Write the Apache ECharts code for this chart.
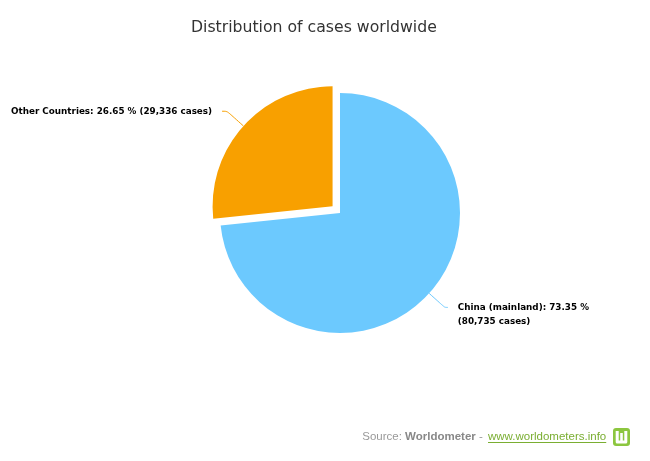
<!DOCTYPE html>
<html>
<head>
<meta charset="utf-8">
<script src="https://cdn.jsdelivr.net/npm/echarts@6/dist/echarts.min.js"></script>
<style>html,body{margin:0;padding:0;background:#fff}#c{width:650px;height:461px}</style>
</head>
<body>
<div id="c"></div>
<script>
var categories = ['China (mainland)', 'Other Countries'];
var cases = [80735, 29336];
var colors = ['#6CC9FE', '#F8A000'];
var titleText = 'Distribution of cases worldwide';
var sourceLabel = 'Source: ';
var sourceName = 'Worldometer';
var sourceLink = 'www.worldometers.info';

var chart = echarts.init(document.getElementById('c'), null, {renderer: 'canvas'});

function fmtLabel(p) {
  var txt = p.name + ': ' + p.percent.toFixed(2) + ' %';
  var c = '(' + echarts.format.addCommas(p.value) + ' cases)';
  return p.dataIndex === 0 ? '\n' + txt + '\n' + c : txt + ' ' + c;
}

var data = categories.map(function (n, i) {
  var item = {name: n, value: cases[i], itemStyle: {color: colors[i]}};
  if (i === 0) {
    item.label = {distanceToLabelLine: 10};
    item.labelLine = {length: 21, length2: 3};
  } else {
    item.selected = true;
    item.label = {distanceToLabelLine: 10};
    item.labelLine = {length: 22, length2: 5};
  }
  return item;
});

// measure link width for underline
var ctx = document.createElement('canvas').getContext('2d');
var srcFont = '11.5px "Liberation Sans", Arial, sans-serif';
ctx.font = srcFont;
var linkW = ctx.measureText(sourceLink).width;
var linkX = 488;

chart.setOption({
  animation: false,
  backgroundColor: '#fff',
  title: {
    text: titleText,
    left: 186,
    top: 15,
    textStyle: {fontFamily: '"DejaVu Sans", sans-serif', fontSize: 15.7, fontWeight: 'normal', color: '#333'}
  },
  series: [{
    type: 'pie',
    center: [340, 213],
    radius: 120,
    startAngle: 90,
    clockwise: true,
    selectedMode: 'single',
    selectedOffset: 10,
    emphasis: {disabled: true},
    label: {
      show: true,
      position: 'outside',
      formatter: fmtLabel,
      fontFamily: '"DejaVu Sans", Verdana, sans-serif',
      fontSize: 8.8,
      fontWeight: 'bold',
      color: '#000',
      lineHeight: 14
    },
    labelLine: {show: true, smooth: 0.3, lineStyle: {width: 1}},
    data: data
  }],
  graphic: [
    {
      type: 'text', x: linkX - 2, y: 437,
      style: {
        text: '{a|' + sourceLabel + '}{b|' + sourceName + '}{a| - }',
        align: 'right', verticalAlign: 'middle',
        rich: {
          a: {font: srcFont, fill: '#999'},
          b: {font: 'bold ' + srcFont, fill: '#888'}
        }
      }
    },
    {
      type: 'text', x: linkX, y: 437,
      style: {text: sourceLink, font: srcFont, fill: '#7AAE32', align: 'left', verticalAlign: 'middle'}
    },
    {
      type: 'line', shape: {x1: linkX, y1: 442.5, x2: linkX + linkW, y2: 442.5},
      style: {stroke: '#7AAE32', lineWidth: 1}
    },
    {
      type: 'rect', shape: {x: 613, y: 428, width: 17, height: 18, r: 3},
      style: {fill: '#8CC63F'}
    },
    {
      type: 'polyline', shape: {points: [[617.2, 431], [617.2, 442], [625.8, 442], [625.8, 431]]},
      style: {stroke: '#fff', lineWidth: 3, fill: null, lineJoin: 'round'}
    },
    {
      type: 'line', shape: {x1: 621.5, y1: 433, x2: 621.5, y2: 442},
      style: {stroke: '#fff', lineWidth: 2.6}
    }
  ]
});
</script>
</body>
</html>
